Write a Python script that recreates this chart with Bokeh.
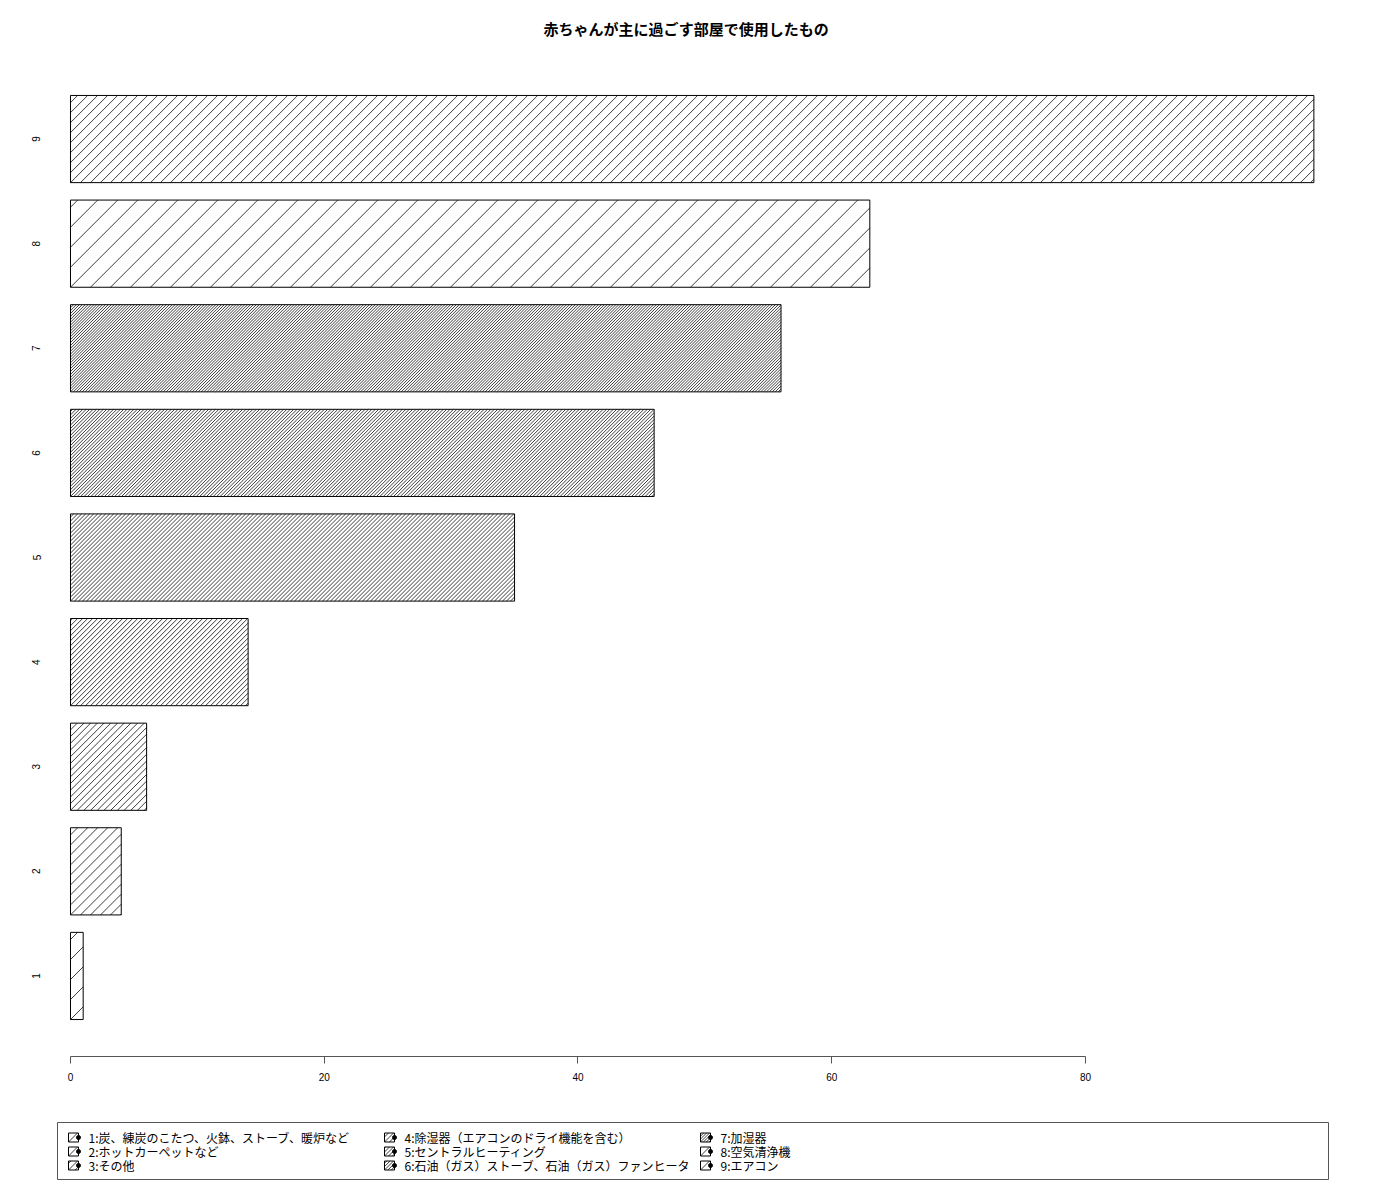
from bokeh.plotting import figure
from bokeh.layouts import column
from bokeh.models import Range1d, FixedTicker, ColumnDataSource
from bokeh.core.properties import value
from bokeh.embed import file_html
from bokeh.resources import INLINE

# ---- data ----
categories = ["1", "2", "3", "4", "5", "6", "7", "8", "9"]
values = [1, 4, 6, 14, 35, 46, 56, 63, 98]
legend_labels = [
    "1:炭、練炭のこたつ、火鉢、ストーブ、暖炉など",
    "2:ホットカーペットなど",
    "3:その他",
    "4:除湿器（エアコンのドライ機能を含む）",
    "5:セントラルヒーティング",
    "6:石油（ガス）ストーブ、石油（ガス）ファンヒータ",
    "7:加湿器",
    "8:空気清浄機",
    "9:エアコン",
]
x_ticks = [0, 20, 40, 60, 80]
title_text = "赤ちゃんが主に過ごす部屋で使用したもの"

# ---- styles ----
hatch_spacing = [20, 10, 6.7, 5, 4, 3.4, 2.9, 20, 10]   # px between hatch lines
JP = "Noto Sans CJK JP"
LAT = "Liberation Sans"

W = 1384
FRAME_L, FRAME_R = 55, 1330
FRAME_T, FRAME_B = 58, 1056
X0, X1 = -1.182, 99.31
Y0, Y1 = 0.23, 9.77
BAR_H = 1 / 1.2
positions = list(range(1, len(categories) + 1))

ppx = (FRAME_R - FRAME_L) / (X1 - X0)
ppy = (FRAME_B - FRAME_T) / (Y1 - Y0)


def hatch_segments(wp, hp, s):
    """diagonal '/' lines inside a wp x hp pixel box, in pixel offsets (u right, v up)."""
    segs = []
    k = -int(hp // s) - 1
    while k * s < wp:
        c = k * s
        vmin = max(0.0, -c)
        vmax = min(hp, wp - c)
        if vmax > vmin:
            segs.append((c + vmin, vmin, c + vmax, vmax))
        k += 1
    return segs


def blank_fig(h, top):
    f = figure(width=W, height=h, output_backend="svg", toolbar_location=None,
               x_range=Range1d(FRAME_L, FRAME_R), y_range=Range1d(top + h, top),
               min_border=0)
    f.axis.visible = False
    f.grid.visible = False
    f.outline_line_color = None
    return f


# ---- title strip (frame aligned with main frame; coords = page pixels) ----
tf = blank_fig(FRAME_T, 0)
tf.text(x=[(57 + 1314) / 2], y=[27.5], text=[title_text], text_font=value(JP),
        text_font_size="15px", text_font_style="bold", text_align="center",
        text_baseline="middle", text_color="black")

# ---- main plot ----
PH = 1100 - FRAME_T
src = ColumnDataSource(dict(y=positions, right=values))

p = figure(width=W, height=PH, output_backend="svg", toolbar_location=None,
           x_range=Range1d(X0, X1), y_range=Range1d(Y0, Y1),
           min_border_left=FRAME_L, min_border_right=W - FRAME_R,
           min_border_top=0, min_border_bottom=1100 - FRAME_B)
p.outline_line_color = None
p.grid.visible = False

p.hbar(y="y", left=0, right="right", height=BAR_H, source=src,
       fill_color="white", line_color=None)

hx0, hy0, hx1, hy1 = [], [], [], []
for yc, v, s in zip(positions, values, hatch_spacing):
    yb = yc - BAR_H / 2
    for u0, v0, u1, v1 in hatch_segments(v * ppx, BAR_H * ppy, s):
        hx0.append(u0 / ppx); hy0.append(yb + v0 / ppy)
        hx1.append(u1 / ppx); hy1.append(yb + v1 / ppy)
p.segment(x0=hx0, y0=hy0, x1=hx1, y1=hy1, line_color="black",
          line_width=0.9, line_alpha=0.85)

p.hbar(y="y", left=0, right="right", height=BAR_H, source=src,
       fill_color=None, line_color="black", line_width=1)

xa = p.xaxis[0]
xa.ticker = FixedTicker(ticks=x_ticks)
xa.bounds = (0, 80)
xa.axis_line_color = "#555555"
xa.major_tick_line_color = "#555555"
xa.major_tick_out = 7
xa.major_tick_in = 0
xa.minor_tick_line_color = None
xa.major_label_text_font = LAT
xa.major_label_text_font_size = "10px"
xa.major_label_text_color = "black"
xa.major_label_standoff = 9

ya = p.yaxis[0]
ya.ticker = FixedTicker(ticks=positions)
ya.major_label_overrides = {i: c for i, c in zip(positions, categories)}
ya.axis_line_color = None
ya.major_tick_line_color = None
ya.minor_tick_line_color = None
ya.major_tick_out = 0
ya.major_tick_in = 0
ya.major_label_orientation = "vertical"
ya.major_label_text_font = LAT
ya.major_label_text_font_size = "10px"
ya.major_label_text_color = "black"
ya.major_label_standoff = 15

# ---- legend strip ----
LTOP = 1100
LH = 85
lg = blank_fig(LH, LTOP)

lg.quad(left=[57], right=[1328], top=[1122], bottom=[1179],
        fill_color=None, line_color="#555555", line_width=1)

col_sw = [68, 384, 700]
rows_y = [1137, 1151, 1165]
SW, SH = 10, 9
sx, sy, tx = [], [], []
lx0, ly0, lx1, ly1 = [], [], [], []
for k in range(len(legend_labels)):
    c, r = divmod(k, 3)
    left = col_sw[c]
    cy = rows_y[r]
    sx.append(left + SW / 2)
    sy.append(cy)
    tx.append(left + 20)
    for u0, v0, u1, v1 in hatch_segments(SW, SH, hatch_spacing[k]):
        lx0.append(left + u0); ly0.append(cy + SH / 2 - v0)
        lx1.append(left + u1); ly1.append(cy + SH / 2 - v1)

lsrc = ColumnDataSource(dict(x=sx, y=sy, tx=tx, dx=[v + SW / 2 for v in sx],
                             label=legend_labels))
lg.segment(x0=lx0, y0=ly0, x1=lx1, y1=ly1, line_color="black",
           line_width=0.9, line_alpha=0.85)
lg.rect(x="x", y="y", width=SW, height=SH, source=lsrc,
        fill_color=None, line_color="black", line_width=1)
lg.scatter(x="dx", y="y", size=4, source=lsrc, color="black")
lg.text(x="tx", y="y", text="label", source=lsrc, text_font=value(JP),
        text_font_size="12px", text_baseline="middle", text_color="black")

layout = column(tf, p, lg, spacing=0)
open("out.html", "w").write(file_html(layout, INLINE))
